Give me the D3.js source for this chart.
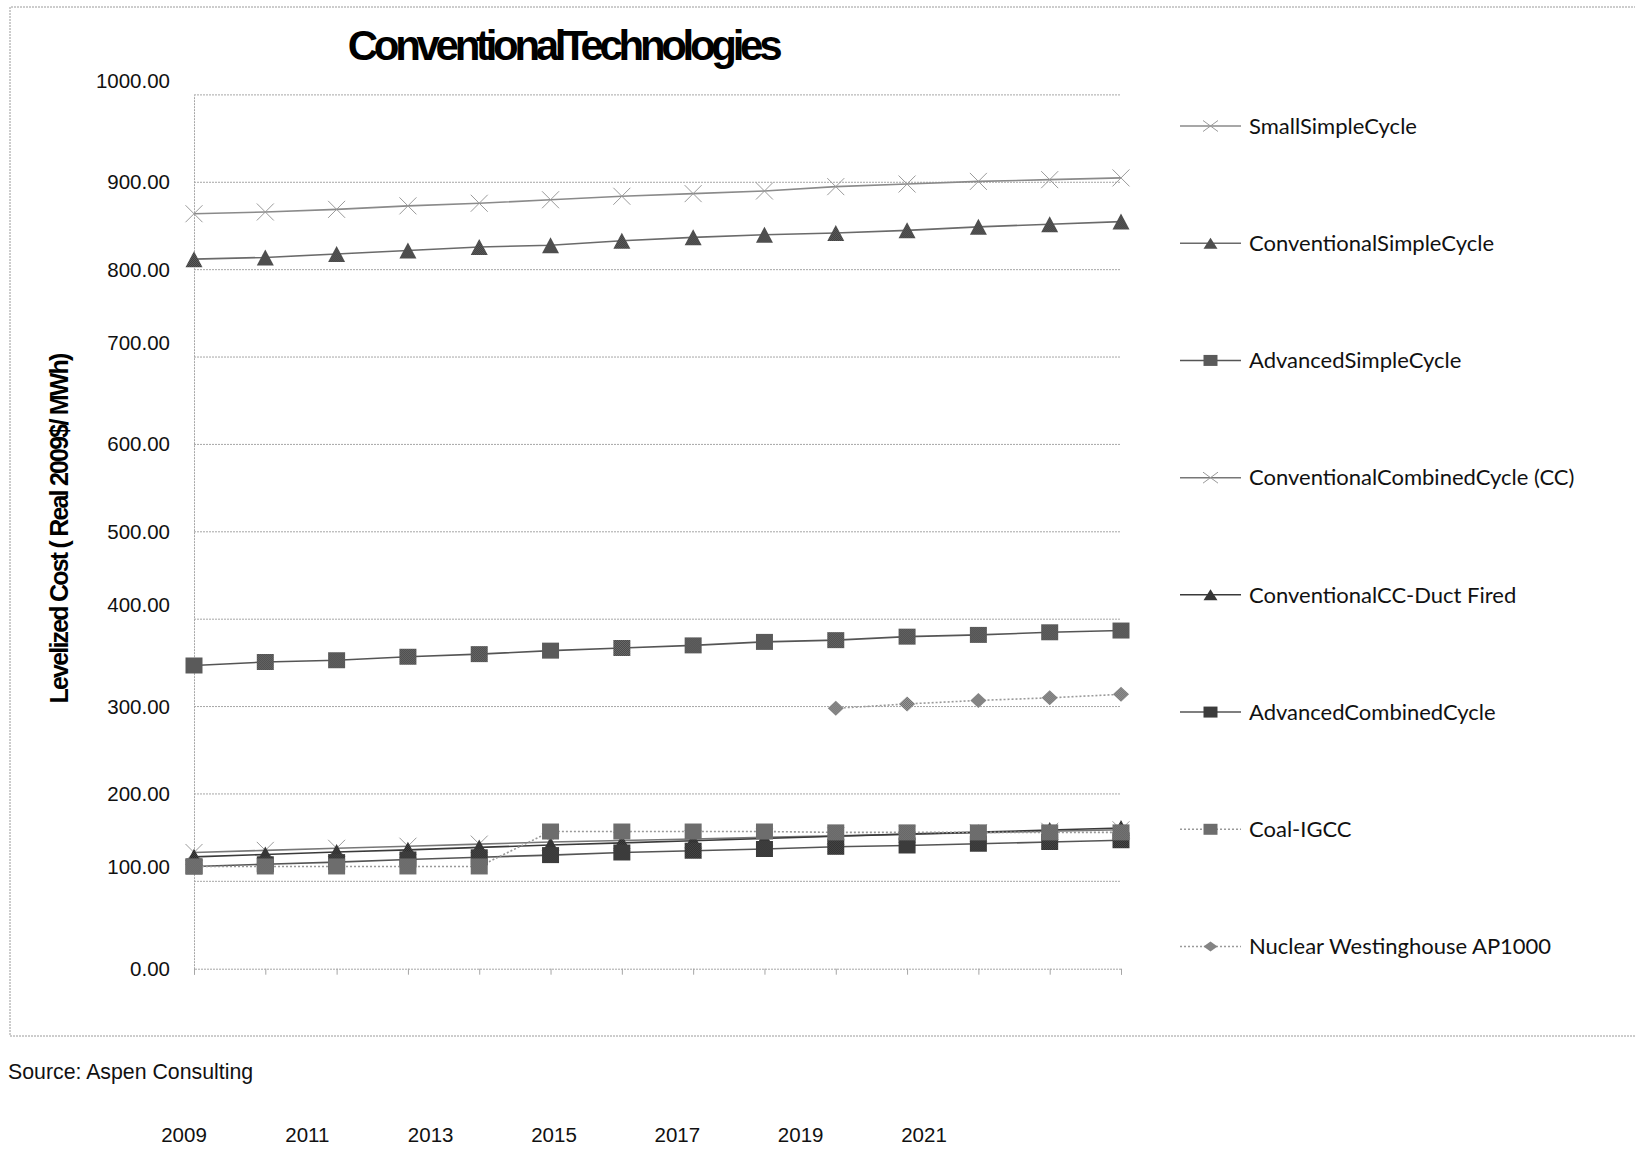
<!DOCTYPE html>
<html>
<head>
<meta charset="utf-8">
<script src="https://cdn.jsdelivr.net/npm/d3@7"></script>
<style>
  html, body { margin: 0; padding: 0; background: #fff; }
  svg { display: block; }
</style>
</head>
<body>
<svg id="chart" width="1635" height="1149"></svg>
<script>
// Levelized cost by technology, 2009-2022 (real 2009 $/MWh)
const years = [2009, 2010, 2011, 2012, 2013, 2014, 2015, 2016, 2017, 2018, 2019, 2020, 2021, 2022];
const yearLabels = ["2009", "2011", "2013", "2015", "2017", "2019", "2021"];
const yTicks = [0, 100, 200, 300, 400, 500, 600, 700, 800, 900, 1000];

const smallSimpleCycle = [864, 866, 869, 873, 876, 880, 884, 887, 890, 895, 898, 901, 903, 905];
const conventionalSimpleCycle = [812, 814, 818, 822, 826, 828, 833, 837, 840, 842, 845, 849, 852, 855];
const advancedSimpleCycle = [347, 351, 353, 357, 360, 364, 367, 370, 374, 376, 380, 382, 385, 387];
const conventionalCombinedCycle = [133, 135.4, 137.8, 140.2, 142.6, 145, 146.8, 148.5, 150.3, 152, 153.8, 155.5, 157.3, 159];
const ccDuctFired = [128, 130.7, 133.5, 136, 138.8, 141.5, 144, 146.5, 149, 151.5, 154, 156.3, 158.7, 161];
const advancedCombinedCycle = [117, 119.5, 122, 125, 127.5, 130, 133, 135, 137, 139.5, 141, 143, 145, 147];
const coalIGCC = [117, 117, 117, 117, 117, 157, 157, 157, 157, 156, 156, 156, 156, 156];
const nuclearAP1000 = [null, null, null, null, null, null, null, null, null, 298, 303, 307, 310, 314];

const seriesNames = [
  "SmallSimpleCycle",
  "ConventionalSimpleCycle",
  "AdvancedSimpleCycle",
  "ConventionalCombinedCycle (CC)",
  "ConventionalCC-Duct Fired",
  "AdvancedCombinedCycle",
  "Coal-IGCC",
  "Nuclear Westinghouse  AP1000"
];
const seriesValues = [smallSimpleCycle, conventionalSimpleCycle, advancedSimpleCycle,
  conventionalCombinedCycle, ccDuctFired, advancedCombinedCycle, coalIGCC, nuclearAP1000];

// Visual style for each series, in the same order as the names above
const styles = [
  { marker: "x",        fill: "none",        stroke: "#9a9a9a", line: "#8a8a8a", dash: null },
  { marker: "triangle", fill: "url(#texTri)", stroke: "none",   line: "#6a6a6a", dash: null },
  { marker: "square",   fill: "url(#texSq)",  stroke: "none",   line: "#555555", dash: null },
  { marker: "x",        fill: "none",        stroke: "#9a9a9a", line: "#777777", dash: null },
  { marker: "triangle", fill: "url(#texTriDark)", stroke: "none", line: "#3a3a3a", dash: null },
  { marker: "square",   fill: "url(#texAdv)", stroke: "none",   line: "#555555", dash: null },
  { marker: "square",   fill: "url(#texCoal)", stroke: "none",  line: "#999999", dash: "2,2" },
  { marker: "diamond",  fill: "url(#texDia)", stroke: "none",   line: "#9a9a9a", dash: "2,2" }
];

const svg = d3.select("#chart");
const FONT = "'Liberation Sans', Arial, sans-serif";

// Dithered textures for the filled markers
const defs = svg.append("defs");
function texture(id, a, b) {
  const p = defs.append("pattern").attr("id", id)
    .attr("width", 2).attr("height", 2).attr("patternUnits", "userSpaceOnUse");
  p.append("rect").attr("width", 2).attr("height", 2).attr("fill", a);
  p.append("rect").attr("width", 1).attr("height", 1).attr("fill", b);
  p.append("rect").attr("x", 1).attr("y", 1).attr("width", 1).attr("height", 1).attr("fill", b);
}
texture("texTri", "#383838", "#646464");
texture("texTriDark", "#222222", "#4a4a4a");
texture("texSq", "#444444", "#707070");
texture("texAdv", "#222222", "#555555");
texture("texCoal", "#555555", "#858585");
texture("texDia", "#6c6c6c", "#9c9c9c");

// Outer chart frame
svg.append("path")
  .attr("d", "M1660,7 H10 V1036 H1660")
  .attr("fill", "none").attr("stroke", "#9a9a9a").attr("stroke-width", 1)
  .attr("stroke-dasharray", "2,1");

// Scales
const x = d3.scalePoint().domain(years).range([194, 1121]);
const y = d3.scaleLinear().domain([0, 1000]).range([968.7, 94.9]);

// Horizontal gridlines
svg.append("g").selectAll("line").data(yTicks.filter(d => d > 0)).join("line")
  .attr("x1", 194).attr("x2", 1121)
  .attr("y1", d => y(d)).attr("y2", d => y(d))
  .attr("stroke", "#a6a6a6").attr("stroke-width", 1).attr("stroke-dasharray", "2,1");

// Y axis: dotted spine, no tick marks, labels set against the gridlines
const liftedLabels = [100, 400, 700, 1000];
const yAxis = svg.append("g").attr("transform", "translate(194,0)")
  .call(d3.axisLeft(y).tickValues(yTicks).tickSize(0).tickPadding(24)
    .tickFormat(d => d3.format(".2f")(d)));
yAxis.select(".domain").attr("stroke", "#a6a6a6").attr("stroke-dasharray", "2,1");
yAxis.selectAll(".tick text")
  .attr("font-family", FONT).attr("font-size", 20.5).attr("fill", "#111")
  .attr("dy", d => liftedLabels.includes(d) ? "-0.38em" : "0.32em");

// X axis: baseline with category ticks only
const xAxis = svg.append("g").attr("transform", `translate(0,${y(0)})`)
  .call(d3.axisBottom(x).tickSize(6).tickFormat(""));
xAxis.select(".domain").attr("stroke", "#a6a6a6").attr("stroke-dasharray", "2,1");
xAxis.selectAll(".tick line").attr("stroke", "#a6a6a6");

// Marker shapes centered on the origin
function markerPath(type, w, h) {
  const a = w / 2, b = h / 2;
  if (type === "square") return `M${-a},${-b}H${a}V${b}H${-a}Z`;
  if (type === "triangle") return `M0,${-b}L${a},${b}H${-a}Z`;
  if (type === "diamond") return `M0,${-b}L${a},0L0,${b}L${-a},0Z`;
  return `M${-a},${-b}L${a},${b}M${a},${-b}L${-a},${b}`;
}
const plotSize = { square: [17, 16], triangle: [17, 16], diamond: [16, 15], x: [17, 17] };
const legendSize = { square: [14, 11], triangle: [14, 11], diamond: [14, 10], x: [15, 11] };

// Series lines and markers
seriesValues.forEach((vals, i) => {
  const st = styles[i];
  const pts = years.map((yr, j) => ({ yr, v: vals[j] })).filter(p => p.v != null);
  const g = svg.append("g");
  g.append("path").datum(pts)
    .attr("d", d3.line().x(p => x(p.yr)).y(p => y(p.v)))
    .attr("fill", "none").attr("stroke", st.line).attr("stroke-width", 1.6)
    .attr("stroke-dasharray", st.dash);
  const [w, h] = plotSize[st.marker];
  g.selectAll("path.m").data(pts).join("path").attr("class", "m")
    .attr("transform", p => `translate(${x(p.yr)},${y(p.v)})`)
    .attr("d", markerPath(st.marker, w, h))
    .attr("fill", st.fill).attr("stroke", st.stroke).attr("stroke-width", 1);
});

// Legend
const legendY = d3.scalePoint().domain(seriesNames).range([126, 946.5]);
const legend = svg.append("g");
seriesNames.forEach((name, i) => {
  const st = styles[i];
  const ly = legendY(name);
  const row = legend.append("g").attr("transform", `translate(0,${ly})`);
  row.append("line").attr("x1", 1180).attr("x2", 1241)
    .attr("stroke", st.line).attr("stroke-width", 1.5).attr("stroke-dasharray", st.dash);
  const [w, h] = legendSize[st.marker];
  row.append("path").attr("transform", "translate(1210.5,0)")
    .attr("d", markerPath(st.marker, w, h))
    .attr("fill", st.fill).attr("stroke", st.stroke).attr("stroke-width", 1);
  row.append("text").attr("x", 1249).attr("dy", "0.35em")
    .attr("font-family", "Lato, 'Open Sans', sans-serif").attr("font-size", 22)
    .attr("fill", "#111")
    .text(name);
});

// Title
svg.append("text").attr("x", 563).attr("y", 60).attr("text-anchor", "middle")
  .attr("font-family", FONT).attr("font-weight", "bold").attr("font-size", 42)
  .attr("letter-spacing", -4.3).attr("fill", "#000")
  .text("ConventionalTechnologies");

// Y axis title
svg.append("text").attr("transform", "translate(68,529) rotate(-90)")
  .attr("text-anchor", "middle")
  .attr("font-family", FONT).attr("font-weight", "bold").attr("font-size", 25)
  .attr("letter-spacing", -1.8).attr("fill", "#000")
  .text("Levelized Cost ( Real 2009$/ MWh)");

// Source note
svg.append("text").attr("x", 8).attr("y", 1079)
  .attr("font-family", FONT).attr("font-size", 21.3).attr("fill", "#111")
  .text("Source: Aspen Consulting");

// Year labels row beneath the frame
const xl = d3.scalePoint().domain(yearLabels).range([184, 924]);
svg.append("g").selectAll("text").data(yearLabels).join("text")
  .attr("x", d => xl(d)).attr("y", 1142).attr("text-anchor", "middle")
  .attr("font-family", FONT).attr("font-size", 20.5).attr("fill", "#111")
  .text(d => d);
</script>
</body>
</html>
